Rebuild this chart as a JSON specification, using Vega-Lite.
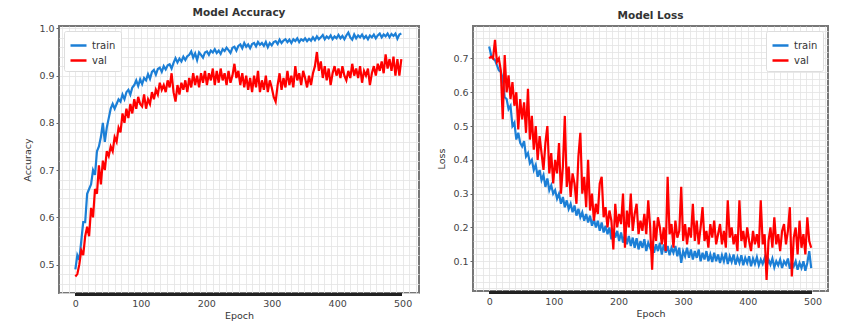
{
"$schema": "https://vega.github.io/schema/vega-lite/v6.json",
"padding": {"left": 21, "top": 6, "right": 5, "bottom": 5},
"background": "white",
"config": {
  "font": "DejaVu Sans",
  "view": {"stroke": "#777", "strokeWidth": 2},
  "axis": {"labelColor": "#444", "titleColor": "#333", "labelFontSize": 9.5, "titleFontSize": 9.5, "titleFontWeight": "normal", "domain": false, "gridColor": "#e3e3e3", "gridWidth": 0.8, "tickColor": "#666", "tickSize": 3, "labelPadding": 2, "labelOverlap": false, "labelFlush": false},
  "title": {"fontSize": 10.5, "fontWeight": "bold", "color": "#333", "offset": 5},
  "legend": {"title": null, "symbolType": "stroke", "symbolStrokeWidth": 2.5, "symbolSize": 256, "labelFontSize": 10, "labelColor": "#333", "fillColor": "white", "strokeColor": "#ddd", "padding": 5, "rowPadding": 0, "offset": 5, "cornerRadius": 2}
},
"data": {"values": [
{"epoch":0,"acc_train":0.49,"acc_val":0.475,"loss_train":0.735,"loss_val":0.70},
{"epoch":3,"acc_train":0.52,"acc_val":0.48,"loss_train":0.71,"loss_val":0.705},
{"epoch":6,"acc_train":0.51,"acc_val":0.50,"loss_train":0.70,"loss_val":0.70},
{"epoch":9,"acc_train":0.55,"acc_val":0.53,"loss_train":0.695,"loss_val":0.755},
{"epoch":12,"acc_train":0.59,"acc_val":0.52,"loss_train":0.68,"loss_val":0.69},
{"epoch":15,"acc_train":0.59,"acc_val":0.56,"loss_train":0.665,"loss_val":0.70},
{"epoch":18,"acc_train":0.65,"acc_val":0.58,"loss_train":0.66,"loss_val":0.665},
{"epoch":21,"acc_train":0.66,"acc_val":0.56,"loss_train":0.64,"loss_val":0.52},
{"epoch":24,"acc_train":0.67,"acc_val":0.62,"loss_train":0.585,"loss_val":0.71},
{"epoch":27,"acc_train":0.70,"acc_val":0.60,"loss_train":0.58,"loss_val":0.60},
{"epoch":30,"acc_train":0.69,"acc_val":0.66,"loss_train":0.55,"loss_val":0.65},
{"epoch":33,"acc_train":0.74,"acc_val":0.65,"loss_train":0.56,"loss_val":0.58},
{"epoch":36,"acc_train":0.75,"acc_val":0.71,"loss_train":0.50,"loss_val":0.63},
{"epoch":39,"acc_train":0.77,"acc_val":0.67,"loss_train":0.51,"loss_val":0.56},
{"epoch":42,"acc_train":0.80,"acc_val":0.72,"loss_train":0.46,"loss_val":0.60},
{"epoch":45,"acc_train":0.76,"acc_val":0.70,"loss_train":0.48,"loss_val":0.49},
{"epoch":48,"acc_train":0.79,"acc_val":0.74,"loss_train":0.45,"loss_val":0.58},
{"epoch":51,"acc_train":0.81,"acc_val":0.73,"loss_train":0.44,"loss_val":0.52},
{"epoch":54,"acc_train":0.83,"acc_val":0.75,"loss_train":0.455,"loss_val":0.57},
{"epoch":57,"acc_train":0.84,"acc_val":0.74,"loss_train":0.41,"loss_val":0.48},
{"epoch":60,"acc_train":0.83,"acc_val":0.77,"loss_train":0.42,"loss_val":0.61},
{"epoch":63,"acc_train":0.84,"acc_val":0.76,"loss_train":0.39,"loss_val":0.46},
{"epoch":66,"acc_train":0.85,"acc_val":0.79,"loss_train":0.40,"loss_val":0.53},
{"epoch":69,"acc_train":0.845,"acc_val":0.78,"loss_train":0.37,"loss_val":0.43},
{"epoch":72,"acc_train":0.86,"acc_val":0.82,"loss_train":0.385,"loss_val":0.50},
{"epoch":75,"acc_train":0.85,"acc_val":0.80,"loss_train":0.35,"loss_val":0.40},
{"epoch":78,"acc_train":0.865,"acc_val":0.83,"loss_train":0.37,"loss_val":0.47},
{"epoch":81,"acc_train":0.87,"acc_val":0.81,"loss_train":0.34,"loss_val":0.42},
{"epoch":84,"acc_train":0.86,"acc_val":0.84,"loss_train":0.355,"loss_val":0.37},
{"epoch":87,"acc_train":0.875,"acc_val":0.82,"loss_train":0.32,"loss_val":0.45},
{"epoch":90,"acc_train":0.88,"acc_val":0.85,"loss_train":0.345,"loss_val":0.50},
{"epoch":93,"acc_train":0.89,"acc_val":0.83,"loss_train":0.31,"loss_val":0.36},
{"epoch":96,"acc_train":0.878,"acc_val":0.855,"loss_train":0.325,"loss_val":0.42},
{"epoch":99,"acc_train":0.892,"acc_val":0.84,"loss_train":0.30,"loss_val":0.33},
{"epoch":102,"acc_train":0.882,"acc_val":0.835,"loss_train":0.31,"loss_val":0.40},
{"epoch":105,"acc_train":0.895,"acc_val":0.86,"loss_train":0.285,"loss_val":0.36},
{"epoch":108,"acc_train":0.89,"acc_val":0.83,"loss_train":0.30,"loss_val":0.45},
{"epoch":111,"acc_train":0.903,"acc_val":0.85,"loss_train":0.27,"loss_val":0.30},
{"epoch":114,"acc_train":0.893,"acc_val":0.84,"loss_train":0.29,"loss_val":0.38},
{"epoch":117,"acc_train":0.908,"acc_val":0.865,"loss_train":0.26,"loss_val":0.53},
{"epoch":120,"acc_train":0.912,"acc_val":0.85,"loss_train":0.28,"loss_val":0.32},
{"epoch":123,"acc_train":0.902,"acc_val":0.87,"loss_train":0.255,"loss_val":0.38},
{"epoch":126,"acc_train":0.914,"acc_val":0.86,"loss_train":0.27,"loss_val":0.29},
{"epoch":129,"acc_train":0.917,"acc_val":0.885,"loss_train":0.245,"loss_val":0.36},
{"epoch":132,"acc_train":0.908,"acc_val":0.87,"loss_train":0.265,"loss_val":0.33},
{"epoch":135,"acc_train":0.92,"acc_val":0.88,"loss_train":0.235,"loss_val":0.27},
{"epoch":138,"acc_train":0.913,"acc_val":0.865,"loss_train":0.255,"loss_val":0.41},
{"epoch":141,"acc_train":0.922,"acc_val":0.89,"loss_train":0.23,"loss_val":0.48},
{"epoch":144,"acc_train":0.924,"acc_val":0.875,"loss_train":0.245,"loss_val":0.30},
{"epoch":147,"acc_train":0.915,"acc_val":0.905,"loss_train":0.22,"loss_val":0.35},
{"epoch":150,"acc_train":0.927,"acc_val":0.865,"loss_train":0.24,"loss_val":0.26},
{"epoch":153,"acc_train":0.937,"acc_val":0.845,"loss_train":0.215,"loss_val":0.40},
{"epoch":156,"acc_train":0.928,"acc_val":0.88,"loss_train":0.235,"loss_val":0.25},
{"epoch":159,"acc_train":0.936,"acc_val":0.86,"loss_train":0.205,"loss_val":0.30},
{"epoch":162,"acc_train":0.93,"acc_val":0.885,"loss_train":0.225,"loss_val":0.22},
{"epoch":165,"acc_train":0.94,"acc_val":0.87,"loss_train":0.20,"loss_val":0.27},
{"epoch":168,"acc_train":0.933,"acc_val":0.89,"loss_train":0.22,"loss_val":0.24},
{"epoch":171,"acc_train":0.941,"acc_val":0.865,"loss_train":0.19,"loss_val":0.33},
{"epoch":174,"acc_train":0.944,"acc_val":0.895,"loss_train":0.215,"loss_val":0.35},
{"epoch":177,"acc_train":0.951,"acc_val":0.875,"loss_train":0.185,"loss_val":0.23},
{"epoch":180,"acc_train":0.938,"acc_val":0.905,"loss_train":0.205,"loss_val":0.26},
{"epoch":183,"acc_train":0.947,"acc_val":0.88,"loss_train":0.18,"loss_val":0.20},
{"epoch":186,"acc_train":0.933,"acc_val":0.90,"loss_train":0.20,"loss_val":0.25},
{"epoch":189,"acc_train":0.949,"acc_val":0.875,"loss_train":0.165,"loss_val":0.22},
{"epoch":192,"acc_train":0.944,"acc_val":0.905,"loss_train":0.195,"loss_val":0.135},
{"epoch":195,"acc_train":0.938,"acc_val":0.885,"loss_train":0.17,"loss_val":0.27},
{"epoch":198,"acc_train":0.949,"acc_val":0.91,"loss_train":0.19,"loss_val":0.20},
{"epoch":201,"acc_train":0.951,"acc_val":0.88,"loss_train":0.16,"loss_val":0.24},
{"epoch":204,"acc_train":0.944,"acc_val":0.905,"loss_train":0.185,"loss_val":0.21},
{"epoch":207,"acc_train":0.953,"acc_val":0.89,"loss_train":0.155,"loss_val":0.30},
{"epoch":210,"acc_train":0.949,"acc_val":0.915,"loss_train":0.18,"loss_val":0.14},
{"epoch":213,"acc_train":0.956,"acc_val":0.88,"loss_train":0.15,"loss_val":0.25},
{"epoch":216,"acc_train":0.948,"acc_val":0.91,"loss_train":0.175,"loss_val":0.20},
{"epoch":219,"acc_train":0.953,"acc_val":0.885,"loss_train":0.145,"loss_val":0.30},
{"epoch":222,"acc_train":0.946,"acc_val":0.915,"loss_train":0.17,"loss_val":0.19},
{"epoch":225,"acc_train":0.956,"acc_val":0.89,"loss_train":0.14,"loss_val":0.24},
{"epoch":228,"acc_train":0.952,"acc_val":0.905,"loss_train":0.168,"loss_val":0.27},
{"epoch":231,"acc_train":0.959,"acc_val":0.88,"loss_train":0.135,"loss_val":0.18},
{"epoch":234,"acc_train":0.954,"acc_val":0.91,"loss_train":0.16,"loss_val":0.22},
{"epoch":237,"acc_train":0.948,"acc_val":0.885,"loss_train":0.14,"loss_val":0.19},
{"epoch":240,"acc_train":0.959,"acc_val":0.90,"loss_train":0.165,"loss_val":0.24},
{"epoch":243,"acc_train":0.961,"acc_val":0.925,"loss_train":0.13,"loss_val":0.18},
{"epoch":246,"acc_train":0.953,"acc_val":0.895,"loss_train":0.155,"loss_val":0.28},
{"epoch":249,"acc_train":0.963,"acc_val":0.91,"loss_train":0.14,"loss_val":0.20},
{"epoch":252,"acc_train":0.966,"acc_val":0.88,"loss_train":0.16,"loss_val":0.075},
{"epoch":255,"acc_train":0.958,"acc_val":0.905,"loss_train":0.125,"loss_val":0.22},
{"epoch":258,"acc_train":0.969,"acc_val":0.875,"loss_train":0.15,"loss_val":0.16},
{"epoch":261,"acc_train":0.961,"acc_val":0.90,"loss_train":0.13,"loss_val":0.23},
{"epoch":264,"acc_train":0.966,"acc_val":0.87,"loss_train":0.155,"loss_val":0.20},
{"epoch":267,"acc_train":0.958,"acc_val":0.895,"loss_train":0.12,"loss_val":0.15},
{"epoch":270,"acc_train":0.967,"acc_val":0.865,"loss_train":0.15,"loss_val":0.20},
{"epoch":273,"acc_train":0.969,"acc_val":0.90,"loss_train":0.125,"loss_val":0.13},
{"epoch":276,"acc_train":0.962,"acc_val":0.875,"loss_train":0.145,"loss_val":0.35},
{"epoch":279,"acc_train":0.971,"acc_val":0.91,"loss_train":0.118,"loss_val":0.18},
{"epoch":282,"acc_train":0.965,"acc_val":0.865,"loss_train":0.14,"loss_val":0.21},
{"epoch":285,"acc_train":0.969,"acc_val":0.89,"loss_train":0.125,"loss_val":0.14},
{"epoch":288,"acc_train":0.963,"acc_val":0.87,"loss_train":0.145,"loss_val":0.22},
{"epoch":291,"acc_train":0.971,"acc_val":0.90,"loss_train":0.115,"loss_val":0.17},
{"epoch":294,"acc_train":0.96,"acc_val":0.865,"loss_train":0.14,"loss_val":0.19},
{"epoch":297,"acc_train":0.969,"acc_val":0.89,"loss_train":0.095,"loss_val":0.32},
{"epoch":300,"acc_train":0.964,"acc_val":0.875,"loss_train":0.13,"loss_val":0.16},
{"epoch":303,"acc_train":0.971,"acc_val":0.855,"loss_train":0.115,"loss_val":0.21},
{"epoch":306,"acc_train":0.973,"acc_val":0.845,"loss_train":0.14,"loss_val":0.15},
{"epoch":309,"acc_train":0.967,"acc_val":0.88,"loss_train":0.11,"loss_val":0.20},
{"epoch":312,"acc_train":0.976,"acc_val":0.905,"loss_train":0.135,"loss_val":0.17},
{"epoch":315,"acc_train":0.969,"acc_val":0.87,"loss_train":0.105,"loss_val":0.27},
{"epoch":318,"acc_train":0.974,"acc_val":0.895,"loss_train":0.13,"loss_val":0.16},
{"epoch":321,"acc_train":0.977,"acc_val":0.875,"loss_train":0.11,"loss_val":0.22},
{"epoch":324,"acc_train":0.971,"acc_val":0.91,"loss_train":0.135,"loss_val":0.15},
{"epoch":327,"acc_train":0.976,"acc_val":0.88,"loss_train":0.10,"loss_val":0.20},
{"epoch":330,"acc_train":0.969,"acc_val":0.90,"loss_train":0.125,"loss_val":0.26},
{"epoch":333,"acc_train":0.977,"acc_val":0.875,"loss_train":0.105,"loss_val":0.16},
{"epoch":336,"acc_train":0.973,"acc_val":0.92,"loss_train":0.13,"loss_val":0.19},
{"epoch":339,"acc_train":0.979,"acc_val":0.89,"loss_train":0.10,"loss_val":0.14},
{"epoch":342,"acc_train":0.971,"acc_val":0.905,"loss_train":0.12,"loss_val":0.21},
{"epoch":345,"acc_train":0.977,"acc_val":0.88,"loss_train":0.098,"loss_val":0.17},
{"epoch":348,"acc_train":0.974,"acc_val":0.91,"loss_train":0.125,"loss_val":0.22},
{"epoch":351,"acc_train":0.979,"acc_val":0.895,"loss_train":0.10,"loss_val":0.15},
{"epoch":354,"acc_train":0.973,"acc_val":0.875,"loss_train":0.12,"loss_val":0.18},
{"epoch":357,"acc_train":0.978,"acc_val":0.90,"loss_train":0.095,"loss_val":0.21},
{"epoch":360,"acc_train":0.974,"acc_val":0.88,"loss_train":0.118,"loss_val":0.15},
{"epoch":363,"acc_train":0.981,"acc_val":0.905,"loss_train":0.10,"loss_val":0.19},
{"epoch":366,"acc_train":0.975,"acc_val":0.92,"loss_train":0.125,"loss_val":0.14},
{"epoch":369,"acc_train":0.983,"acc_val":0.95,"loss_train":0.092,"loss_val":0.28},
{"epoch":372,"acc_train":0.977,"acc_val":0.91,"loss_train":0.115,"loss_val":0.17},
{"epoch":375,"acc_train":0.981,"acc_val":0.93,"loss_train":0.098,"loss_val":0.20},
{"epoch":378,"acc_train":0.986,"acc_val":0.895,"loss_train":0.12,"loss_val":0.15},
{"epoch":381,"acc_train":0.977,"acc_val":0.92,"loss_train":0.09,"loss_val":0.18},
{"epoch":384,"acc_train":0.983,"acc_val":0.89,"loss_train":0.112,"loss_val":0.13},
{"epoch":387,"acc_train":0.979,"acc_val":0.915,"loss_train":0.095,"loss_val":0.28},
{"epoch":390,"acc_train":0.985,"acc_val":0.88,"loss_train":0.118,"loss_val":0.16},
{"epoch":393,"acc_train":0.977,"acc_val":0.905,"loss_train":0.088,"loss_val":0.19},
{"epoch":396,"acc_train":0.983,"acc_val":0.92,"loss_train":0.11,"loss_val":0.14},
{"epoch":399,"acc_train":0.979,"acc_val":0.90,"loss_train":0.095,"loss_val":0.20},
{"epoch":402,"acc_train":0.986,"acc_val":0.915,"loss_train":0.115,"loss_val":0.16},
{"epoch":405,"acc_train":0.979,"acc_val":0.895,"loss_train":0.085,"loss_val":0.13},
{"epoch":408,"acc_train":0.984,"acc_val":0.92,"loss_train":0.108,"loss_val":0.19},
{"epoch":411,"acc_train":0.977,"acc_val":0.90,"loss_train":0.092,"loss_val":0.15},
{"epoch":414,"acc_train":0.985,"acc_val":0.89,"loss_train":0.112,"loss_val":0.18},
{"epoch":417,"acc_train":0.991,"acc_val":0.91,"loss_train":0.088,"loss_val":0.14},
{"epoch":420,"acc_train":0.981,"acc_val":0.895,"loss_train":0.105,"loss_val":0.28},
{"epoch":423,"acc_train":0.976,"acc_val":0.925,"loss_train":0.092,"loss_val":0.15},
{"epoch":426,"acc_train":0.987,"acc_val":0.90,"loss_train":0.11,"loss_val":0.18},
{"epoch":429,"acc_train":0.979,"acc_val":0.915,"loss_train":0.085,"loss_val":0.045},
{"epoch":432,"acc_train":0.985,"acc_val":0.895,"loss_train":0.105,"loss_val":0.16},
{"epoch":435,"acc_train":0.981,"acc_val":0.92,"loss_train":0.09,"loss_val":0.20},
{"epoch":438,"acc_train":0.987,"acc_val":0.885,"loss_train":0.108,"loss_val":0.14},
{"epoch":441,"acc_train":0.979,"acc_val":0.91,"loss_train":0.082,"loss_val":0.23},
{"epoch":444,"acc_train":0.984,"acc_val":0.90,"loss_train":0.10,"loss_val":0.15},
{"epoch":447,"acc_train":0.977,"acc_val":0.915,"loss_train":0.088,"loss_val":0.18},
{"epoch":450,"acc_train":0.985,"acc_val":0.88,"loss_train":0.105,"loss_val":0.13},
{"epoch":453,"acc_train":0.981,"acc_val":0.905,"loss_train":0.08,"loss_val":0.19},
{"epoch":456,"acc_train":0.987,"acc_val":0.92,"loss_train":0.10,"loss_val":0.21},
{"epoch":459,"acc_train":0.979,"acc_val":0.90,"loss_train":0.09,"loss_val":0.15},
{"epoch":462,"acc_train":0.985,"acc_val":0.925,"loss_train":0.108,"loss_val":0.19},
{"epoch":465,"acc_train":0.989,"acc_val":0.91,"loss_train":0.078,"loss_val":0.26},
{"epoch":468,"acc_train":0.981,"acc_val":0.93,"loss_train":0.098,"loss_val":0.055},
{"epoch":471,"acc_train":0.987,"acc_val":0.905,"loss_train":0.085,"loss_val":0.17},
{"epoch":474,"acc_train":0.983,"acc_val":0.945,"loss_train":0.10,"loss_val":0.20},
{"epoch":477,"acc_train":0.989,"acc_val":0.915,"loss_train":0.075,"loss_val":0.12},
{"epoch":480,"acc_train":0.981,"acc_val":0.935,"loss_train":0.095,"loss_val":0.22},
{"epoch":483,"acc_train":0.988,"acc_val":0.91,"loss_train":0.08,"loss_val":0.14},
{"epoch":486,"acc_train":0.984,"acc_val":0.94,"loss_train":0.10,"loss_val":0.18},
{"epoch":489,"acc_train":0.989,"acc_val":0.90,"loss_train":0.072,"loss_val":0.12},
{"epoch":492,"acc_train":0.978,"acc_val":0.935,"loss_train":0.095,"loss_val":0.23},
{"epoch":495,"acc_train":0.987,"acc_val":0.90,"loss_train":0.13,"loss_val":0.16},
{"epoch":498,"acc_train":0.989,"acc_val":0.935,"loss_train":0.08,"loss_val":0.14}
]},
"spacing": 15,
"resolve": {"scale": {"color": "independent"}, "legend": {"color": "independent"}},
"hconcat": [
{
  "width": 360, "height": 267,
  "title": "Model Accuracy",
  "encoding": {
    "x": {"field": "epoch", "type": "quantitative", "title": "Epoch",
      "scale": {"domain": [-25, 525], "nice": false, "zero": false},
      "axis": {"values": [-20,-10,0,10,20,30,40,50,60,70,80,90,100,110,120,130,140,150,160,170,180,190,200,210,220,230,240,250,260,270,280,290,300,310,320,330,340,350,360,370,380,390,400,410,420,430,440,450,460,470,480,490,500,510,520],
        "tickCount": 200, "labelOverlap": false, "ticks": false, "labelPadding": 5,
        "labelExpr": "datum.value % 100 === 0 && datum.value >= 0 ? datum.label : ''",
        "titlePadding": 3}}
  },
  "layer": [
    {"mark": {"type": "line", "strokeWidth": 2.2, "clip": true},
     "encoding": {
       "y": {"field": "acc_train", "type": "quantitative", "title": "Accuracy",
         "scale": {"domain": [0.44, 1.005], "nice": false, "zero": false},
         "axis": {"values": [0.44,0.46,0.48,0.5,0.52,0.54,0.56,0.58,0.6,0.62,0.64,0.66,0.68,0.7,0.72,0.74,0.76,0.78,0.8,0.82,0.84,0.86,0.88,0.9,0.92,0.94,0.96,0.98,1.0],
           "tickCount": 200, "labelOverlap": false,
           "labelExpr": "abs(datum.value*10 - round(datum.value*10)) < 0.001 ? format(datum.value, '.1f') : ''",
           "tickColor": {"condition": {"test": "abs(datum.value*10 - round(datum.value*10)) < 0.001", "value": "#666"}, "value": "transparent"},
           "titlePadding": 6}},
       "color": {"datum": "train", "type": "nominal",
         "scale": {"domain": ["train", "val"], "range": ["#1c7fd6", "#ff0000"]},
         "legend": {"orient": "top-left"}}
     }},
    {"mark": {"type": "line", "strokeWidth": 2.2, "clip": true},
     "encoding": {
       "y": {"field": "acc_val", "type": "quantitative"},
       "color": {"datum": "val", "type": "nominal"}
     }},
    {"mark": {"type": "rule", "strokeWidth": 2.5, "color": "#222", "yOffset": 1.5},
     "encoding": {"x": {"datum": 0}, "x2": {"datum": 499}, "y": {"datum": 0.44}}}
  ]
},
{
  "width": 355, "height": 265,
  "title": "Model Loss",
  "encoding": {
    "x": {"field": "epoch", "type": "quantitative", "title": "Epoch",
      "scale": {"domain": [-25, 524], "nice": false, "zero": false},
      "axis": {"values": [-20,-10,0,10,20,30,40,50,60,70,80,90,100,110,120,130,140,150,160,170,180,190,200,210,220,230,240,250,260,270,280,290,300,310,320,330,340,350,360,370,380,390,400,410,420,430,440,450,460,470,480,490,500,510,520],
        "tickCount": 200, "labelOverlap": false, "ticks": false, "labelPadding": 5,
        "labelExpr": "datum.value % 100 === 0 && datum.value >= 0 ? datum.label : ''",
        "titlePadding": 3}}
  },
  "layer": [
    {"mark": {"type": "line", "strokeWidth": 2.2, "clip": true},
     "encoding": {
       "y": {"field": "loss_train", "type": "quantitative", "title": "Loss",
         "scale": {"domain": [0.012, 0.796], "nice": false, "zero": false},
         "axis": {"values": [0.02,0.04,0.06,0.08,0.1,0.12,0.14,0.16,0.18,0.2,0.22,0.24,0.26,0.28,0.3,0.32,0.34,0.36,0.38,0.4,0.42,0.44,0.46,0.48,0.5,0.52,0.54,0.56,0.58,0.6,0.62,0.64,0.66,0.68,0.7,0.72,0.74,0.76,0.78],
           "tickCount": 200, "labelOverlap": false,
           "labelExpr": "abs(datum.value*10 - round(datum.value*10)) < 0.001 ? format(datum.value, '.1f') : ''",
           "tickColor": {"condition": {"test": "abs(datum.value*10 - round(datum.value*10)) < 0.001", "value": "#666"}, "value": "transparent"},
           "titlePadding": 6}},
       "color": {"datum": "train", "type": "nominal",
         "scale": {"domain": ["train", "val"], "range": ["#1c7fd6", "#ff0000"]},
         "legend": {"orient": "top-right"}}
     }},
    {"mark": {"type": "line", "strokeWidth": 2.2, "clip": true},
     "encoding": {
       "y": {"field": "loss_val", "type": "quantitative"},
       "color": {"datum": "val", "type": "nominal"}
     }},
    {"mark": {"type": "rule", "strokeWidth": 2.5, "color": "#222", "yOffset": 1.5},
     "encoding": {"x": {"datum": 0}, "x2": {"datum": 499}, "y": {"datum": 0.012}}}
  ]
}
]
}
